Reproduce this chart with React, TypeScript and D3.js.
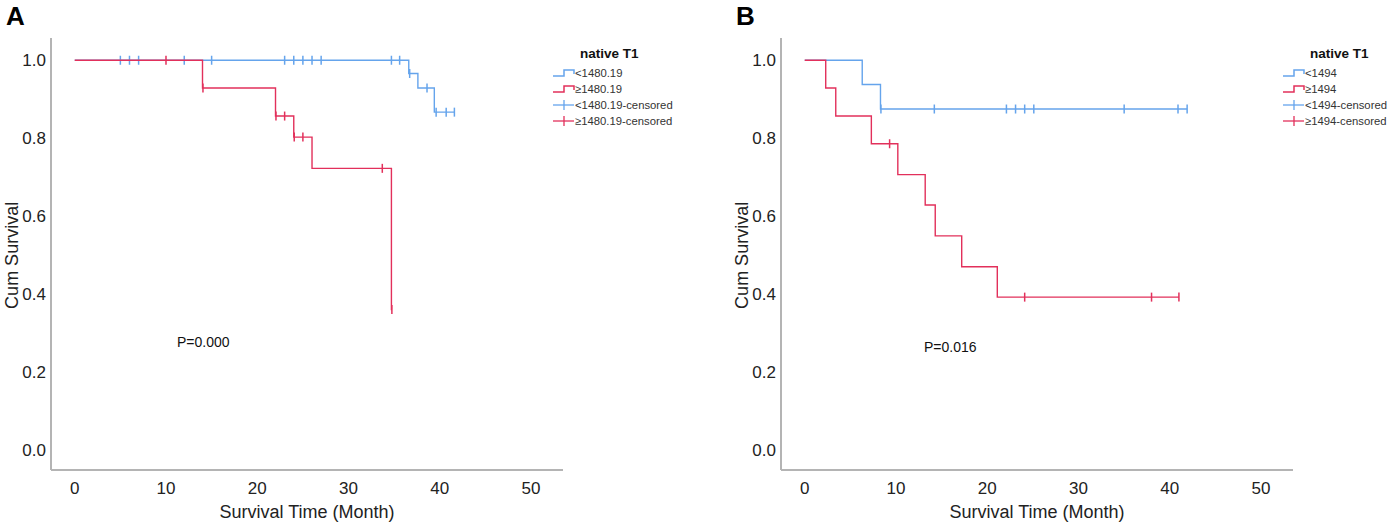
import React from "react";
import * as d3 from "d3";

// tick values
const timeTicks = [0, 10, 20, 30, 40, 50];
const survTicks = [0, 0.2, 0.4, 0.6, 0.8, 1.0];

// Panel A: native T1 cut-off 1480.19
const aLowEventTimes = [36.6, 37.6, 39.4];
const aLowSurv = [0.966, 0.929, 0.867];
const aLowCensor = [5, 6, 7, 12, 15, 23, 24, 25, 26, 27, 34.7, 35.6, 36.7, 38.6, 39.6, 40.7, 41.6];

const aHighEventTimes = [14, 22, 24, 26, 34.7];
const aHighSurv = [0.929, 0.857, 0.803, 0.723, 0.361];
const aHighCensor = [10, 14.05, 22.05, 23, 24.05, 25, 33.7, 34.75];

// Panel B: native T1 cut-off 1494
const bLowEventTimes = [6.3, 8.3];
const bLowSurv = [0.938, 0.875];
const bLowCensor = [8.35, 14.2, 22.1, 23.1, 24.1, 25.1, 35, 40.9, 41.9];

const bHighEventTimes = [2.3, 3.4, 7.3, 10.2, 13.2, 14.3, 17.2, 21.1];
const bHighSurv = [0.929, 0.857, 0.786, 0.707, 0.629, 0.55, 0.471, 0.393];
const bHighCensor = [9.3, 24.1, 38, 41];

const BLUE = "#65a4ec";
const RED = "#e2305b";
const FONT = "Arial, 'Liberation Sans', sans-serif";

interface Group {
  events: number[];
  surv: number[];
  censor: number[];
  color: string;
}

const survAt = (g: Group, t: number) => {
  let s = 1;
  g.events.forEach((e, i) => {
    if (e <= t) s = g.surv[i];
  });
  return s;
};

interface PanelProps {
  offsetX: number;
  letter: string;
  groups: Group[];
  legendLabels: string[];
  pText: string;
  pPos: [number, number];
}

const Panel = ({ offsetX, letter, groups, legendLabels, pText, pPos }: PanelProps) => {
  const x = d3.scaleLinear().domain([-2.6, 53.5]).range([offsetX + 51, offsetX + 563]);
  const y = d3.scaleLinear().domain([-0.05, 1.057]).range([470, 38]);

  const line = d3
    .line<[number, number]>()
    .x((d) => x(d[0]))
    .y((d) => y(d[1]))
    .curve(d3.curveStepAfter);

  const legX = offsetX + 553;
  const legY = [73, 89, 105, 121];

  return (
    <g>
      <text x={offsetX + 6} y={25} fontFamily={FONT} fontWeight="bold" fontSize={26}>
        {letter}
      </text>

      {/* axes */}
      <line x1={x(-2.6)} x2={x(-2.6)} y1={y(1.057)} y2={y(-0.05)} stroke="#b4b4b4" strokeWidth={2} />
      <line x1={x(-2.6)} x2={x(53.5)} y1={y(-0.05)} y2={y(-0.05)} stroke="#b4b4b4" strokeWidth={2} />
      {survTicks.map((t) => (
        <text
          key={t}
          x={x(-2.6) - 5}
          y={y(t)}
          dy="0.35em"
          textAnchor="end"
          fontFamily={FONT}
          fontSize={17}
          fill="#222"
        >
          {t.toFixed(1)}
        </text>
      ))}
      {timeTicks.map((t) => (
        <text key={t} x={x(t)} y={494} textAnchor="middle" fontFamily={FONT} fontSize={17} fill="#222">
          {t}
        </text>
      ))}
      <text
        x={(x(-2.6) + x(53.5)) / 2}
        y={518}
        textAnchor="middle"
        fontFamily={FONT}
        fontSize={18}
        fill="#222"
      >
        Survival Time (Month)
      </text>
      <text
        transform={`translate(${offsetX + 18},${y(0.5)}) rotate(-90)`}
        textAnchor="middle"
        fontFamily={FONT}
        fontSize={18}
        fill="#222"
      >
        Cum Survival
      </text>

      {/* curves */}
      {groups.map((g, gi) => {
        const end = Math.max(...g.censor, ...g.events);
        const pts: [number, number][] = [[0, 1]];
        g.events.forEach((e, i) => pts.push([e, g.surv[i]]));
        pts.push([end, g.surv[g.surv.length - 1] ?? 1]);
        return (
          <g key={gi}>
            <path d={line(pts) || ""} fill="none" stroke={g.color} strokeWidth={1.4} />
            {g.censor.map((c, ci) => (
              <line
                key={ci}
                x1={x(c)}
                x2={x(c)}
                y1={y(survAt(g, c)) - 4.5}
                y2={y(survAt(g, c)) + 4.5}
                stroke={g.color}
                strokeWidth={1.5}
              />
            ))}
          </g>
        );
      })}

      <text x={pPos[0]} y={pPos[1]} fontFamily={FONT} fontSize={14} fill="#111">
        {pText}
      </text>

      {/* legend */}
      <text x={legX + 27} y={58} fontFamily={FONT} fontWeight="bold" fontSize={13.5} fill="#111">
        native T1
      </text>
      {legendLabels.map((lab, i) => {
        const col = i % 2 === 0 ? BLUE : RED;
        const ly = legY[i];
        return (
          <g key={lab}>
            {i < 2 ? (
              <path
                d={`M${legX},${ly + 3}H${legX + 11}V${ly - 3}H${legX + 21}V${ly + 1}`}
                fill="none"
                stroke={col}
                strokeWidth={1.5}
              />
            ) : (
              <g>
                <line x1={legX} x2={legX + 21} y1={ly} y2={ly} stroke={col} strokeWidth={1.3} />
                <line x1={legX + 11} x2={legX + 11} y1={ly - 5} y2={ly + 5} stroke={col} strokeWidth={1.3} />
              </g>
            )}
            <text x={legX + 22} y={ly + 4} fontFamily={FONT} fontSize={11.3} fill="#333">
              {lab}
            </text>
          </g>
        );
      })}
    </g>
  );
};

export default function App() {
  const groupsA: Group[] = [
    { events: aLowEventTimes, surv: aLowSurv, censor: aLowCensor, color: BLUE },
    { events: aHighEventTimes, surv: aHighSurv, censor: aHighCensor, color: RED },
  ];
  const groupsB: Group[] = [
    { events: bLowEventTimes, surv: bLowSurv, censor: bLowCensor, color: BLUE },
    { events: bHighEventTimes, surv: bHighSurv, censor: bHighCensor, color: RED },
  ];
  return (
    <svg
      width={1394}
      height={523}
      style={{ position: "absolute", left: 0, top: 0, background: "#fff" }}
    >
      <Panel
        offsetX={0}
        letter="A"
        groups={groupsA}
        legendLabels={["<1480.19", "≥1480.19", "<1480.19-censored", "≥1480.19-censored"]}
        pText="P=0.000"
        pPos={[177, 347]}
      />
      <Panel
        offsetX={730}
        letter="B"
        groups={groupsB}
        legendLabels={["<1494", "≥1494", "<1494-censored", "≥1494-censored"]}
        pText="P=0.016"
        pPos={[924, 352]}
      />
    </svg>
  );
}
